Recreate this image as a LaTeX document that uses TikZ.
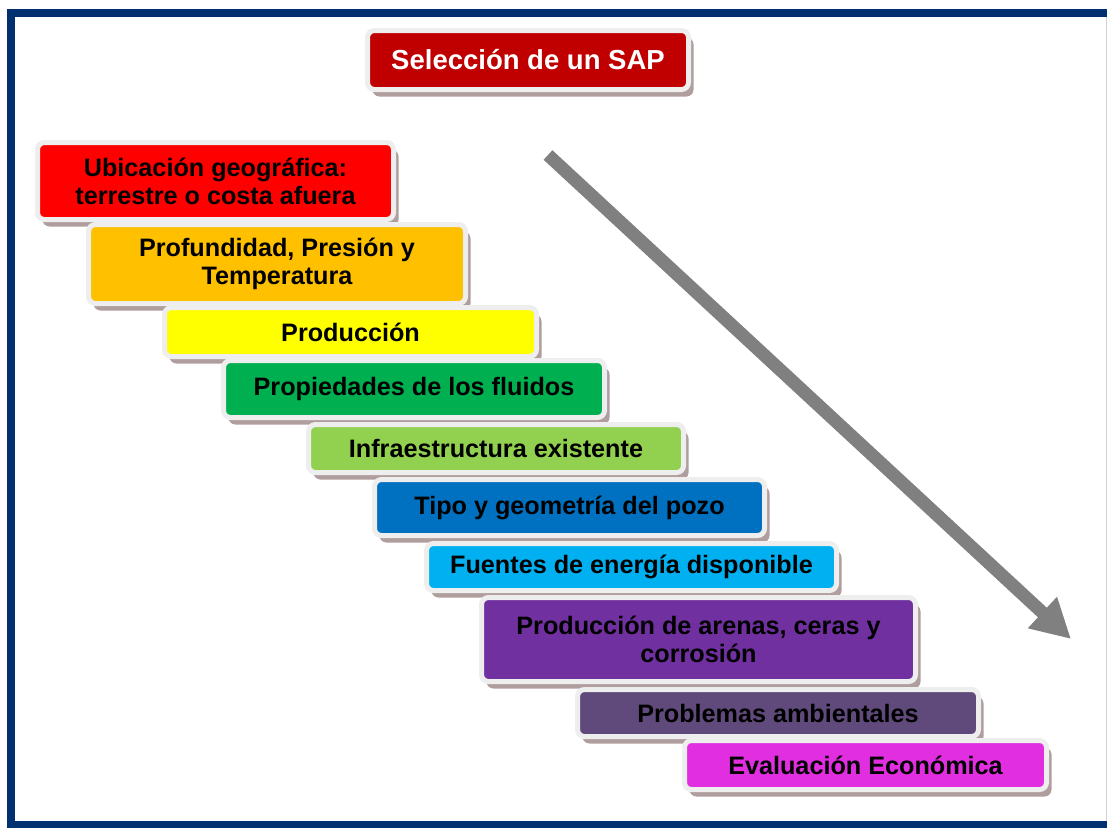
\documentclass[tikz,border=0pt]{standalone}
\usepackage{fontspec}
\setmainfont{Liberation Sans}
\usetikzlibrary{shadows,arrows.meta}
\definecolor{navy}{RGB}{0,48,112}
\definecolor{rimc}{RGB}{238,238,238}
\definecolor{shadc}{RGB}{176,158,158}
\definecolor{arrowc}{RGB}{128,128,128}
\definecolor{ctitle}{HTML}{C00000}
\definecolor{cred}{HTML}{FF0000}
\definecolor{corange}{HTML}{FFC000}
\definecolor{cyellow}{HTML}{FFFF00}
\definecolor{cgreen}{HTML}{00B050}
\definecolor{clgreen}{HTML}{92D050}
\definecolor{cblue}{HTML}{0070C0}
\definecolor{ccyan}{HTML}{00B0F0}
\definecolor{cpurple}{HTML}{7030A0}
\definecolor{cdpurple}{HTML}{604A7B}
\definecolor{cmagenta}{RGB}{224,46,224}
\tikzset{
  stepbox/.style={draw=rimc, line width=5pt, rounded corners=7pt, inner sep=0pt,
    align=center, font=\bfseries\fontsize{25.2}{28}\selectfont, text=black,
    drop shadow={shadow xshift=5pt, shadow yshift=-7pt, fill=shadc, opacity=1}},
  titlebox/.style={stepbox, fill=ctitle, text=white, font=\bfseries\fontsize{27.5}{30}\selectfont},
}
\begin{document}
\begin{tikzpicture}[x=1pt,y=-1pt]
\useasboundingbox (0,0) rectangle (1107,827);
\fill[white] (0,0) rectangle (1107,827);
% frame
\draw[navy, line width=8pt, line join=miter] (1110,13) -- (11,13) -- (11,825) -- (1110,825);
\draw[gray!35, line width=1pt] (1106,17) -- (1106,821);
% title
\node[titlebox, minimum width=321pt, minimum height=59pt] (title) at (528,60) {Selección de un SAP};
% arrow
\coordinate (as) at (548,155);
\coordinate (ae) at (1071,639);
\draw[arrowc, line width=13pt, -{Triangle[width=40pt,length=39pt]}] (as) -- (ae);
% steps
\node[stepbox, fill=cred, minimum width=356pt, minimum height=77pt] (b1) at (215.5,181) {Ubicación geográfica:\\terrestre o costa afuera};
\node[stepbox, fill=corange, minimum width=377pt, minimum height=79pt] (b2) at (277,264) {Profundidad, Presión y\\Temperatura};
\node[stepbox, fill=cyellow, minimum width=372pt, minimum height=49pt] (b3) at (350.5,332) {Producción};
\node[stepbox, fill=cgreen, minimum width=381pt, minimum height=57pt] (b4) at (414,389) {Propiedades de los fluidos};
\node[stepbox, fill=clgreen, minimum width=375pt, minimum height=48pt] (b5) at (496,448.5) {Infraestructura existente};
\node[stepbox, fill=cblue, minimum width=390pt, minimum height=56pt] (b6) at (569.5,507.5) {Tipo y geometría del pozo};
\node[stepbox, fill=ccyan, minimum width=410pt, minimum height=47pt] (b7) at (631.5,567) {Fuentes de energía disponible};
\node[stepbox, fill=cpurple, minimum width=434pt, minimum height=84pt] (b8) at (698.5,639.5) {Producción de arenas, ceras y\\corrosión};
\node[stepbox, fill=cdpurple, minimum width=401pt, minimum height=47pt] (b9) at (778,713) {Problemas ambientales};
\node[stepbox, fill=cmagenta, minimum width=362pt, minimum height=49pt] (b10) at (865.5,765) {Evaluación Económica};
\end{tikzpicture}
\end{document}
